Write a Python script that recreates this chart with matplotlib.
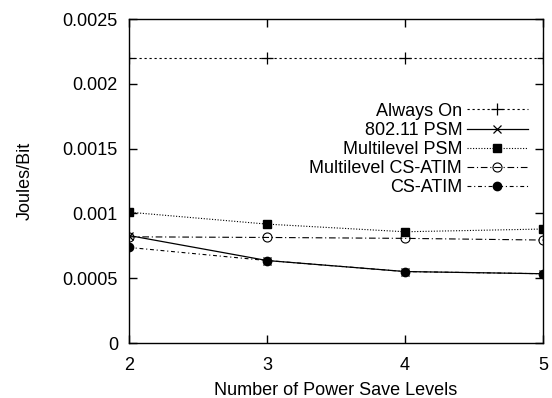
import matplotlib
matplotlib.use('Agg')
import matplotlib.pyplot as plt

plt.rcParams['font.family'] = ['Liberation Sans', 'DejaVu Sans']
plt.rcParams['font.size'] = 13

# Data
levels = [2, 3, 4, 5]
always_on = [0.0022, 0.0022, 0.0022, 0.0022]
psm_80211 = [0.00083, 0.000637, 0.000552, 0.000535]
multilevel_psm = [0.00101, 0.000918, 0.000859, 0.00088]
multilevel_csatim = [0.00082, 0.000815, 0.000808, 0.000795]
csatim = [0.000738, 0.000637, 0.000552, 0.000535]

fig = plt.figure(figsize=(5.52, 3.98), dpi=100)
ax = fig.add_axes([0.2337, 0.138, 0.7500, 0.814])

ax.plot(levels, always_on, color='k', linestyle=(0, (2, 2.5)), linewidth=0.8,
        marker='+', markersize=8, markeredgewidth=0.9, label='Always On')
ax.plot(levels, psm_80211, color='k', linestyle='-', linewidth=0.9,
        marker='x', markersize=6, markeredgewidth=0.9, label='802.11 PSM')
ax.plot(levels, multilevel_psm, color='k', linestyle=(0, (1, 1.5)), linewidth=0.8,
        marker='s', markersize=6, label='Multilevel PSM')
ax.plot(levels, multilevel_csatim, color='k', linestyle=(0, (6, 2.5, 1, 2.5)), linewidth=0.8,
        marker='o', markersize=6.5, markerfacecolor='none', markeredgewidth=0.8,
        label='Multilevel CS-ATIM')
ax.plot(levels, csatim, color='k', linestyle=(0, (3.5, 2.5, 1, 2.5)), linewidth=0.8,
        marker='o', markersize=6, label='CS-ATIM')

ax.set_xlim(2, 5)
ax.set_ylim(0, 0.0025)
ax.set_xticks(levels)
ax.set_yticks([0, 0.0005, 0.001, 0.0015, 0.002, 0.0025])
ax.set_yticklabels(['0', '0.0005', '0.001', '0.0015', '0.002', '0.0025'])
ax.tick_params(direction='in', length=6, width=1, top=True, right=True, labelsize=13)
ax.tick_params(axis='x', pad=10)
ax.tick_params(axis='y', pad=8)
for sp in ax.spines.values():
    sp.set_linewidth(1)

ax.set_xlabel('Number of Power Save Levels', fontsize=13, labelpad=6)
ax.set_ylabel('Joules/Bit', fontsize=13, labelpad=21)

leg = ax.legend(loc='upper right', bbox_to_anchor=(0.964, 0.742), frameon=False,
                markerfirst=False, handlelength=3.4, handletextpad=0.25,
                labelspacing=0.12, fontsize=13, borderaxespad=0, borderpad=0)
for t in leg.get_texts():
    t.set_ha('right')

fig.savefig('out.png', dpi=100)
